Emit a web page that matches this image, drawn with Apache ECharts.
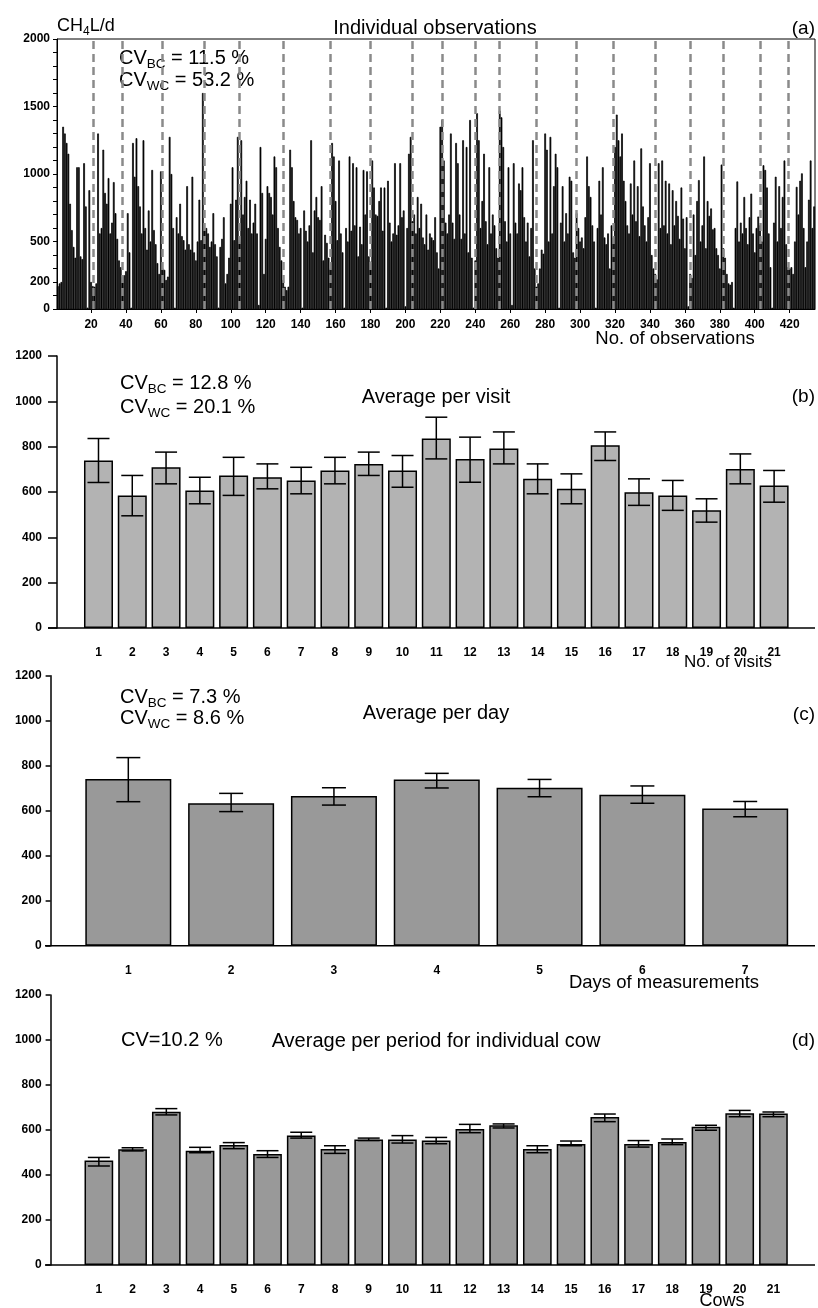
<!DOCTYPE html>
<html><head><meta charset="utf-8">
<script src="https://cdn.jsdelivr.net/npm/echarts@6/dist/echarts.min.js"></script>
<style>html,body{margin:0;padding:0;background:#fff}#c{width:818px;height:1308px}</style>
</head><body><div id="c"></div><script>
// ---- Panel (a): individual observations (CH4 L/d) ----
const obsValues = [
170,190,200,1350,1300,1230,1150,780,585,460,380,1050,1050,390,370,1080,760,10,880,200,
170,165,190,1300,560,600,1180,860,780,970,560,640,940,710,520,360,310,
240,250,280,710,420,10,1230,980,1265,910,760,560,1250,600,440,730,500,1030,585,480,340,260,1020,
300,290,215,240,1275,1000,600,10,680,560,780,540,510,440,910,480,440,980,420,360,500,810,510,1600,
585,600,560,460,500,710,480,390,10,460,520,680,190,260,380,780,1050,510,810,1275,
500,1250,700,830,950,600,810,560,640,780,560,30,1200,860,260,520,910,860,830,700,1130,1050,600,460,360,
215,165,140,165,1180,1050,800,680,660,560,600,10,730,580,500,620,1250,420,730,830,680,660,910,360,550,490,380,
300,1230,1130,800,510,1100,560,420,10,600,500,1130,580,1080,620,1050,390,610,480,1030,700,1020,390,
350,1100,900,700,690,800,900,580,900,10,950,640,500,560,1080,550,620,1080,680,730,20,600,1150,1275,
650,700,560,830,600,780,530,480,700,440,560,530,510,680,420,300,1350,
1400,1100,640,560,700,1300,640,520,1230,1080,700,520,1250,560,1200,420,1400,380,10,
360,1450,1250,600,800,1150,650,480,1050,560,700,620,450,380,
1470,1420,1200,650,500,1050,560,30,1080,640,560,930,880,1050,680,500,640,390,600,1250,300,
165,190,300,440,410,1300,1180,500,1275,560,910,1150,1050,10,640,910,500,710,560,980,950,420,380,
710,600,500,530,450,680,1130,910,830,620,500,10,600,950,700,1050,530,480,560,300,620,
530,1200,1440,1250,1130,1300,950,800,620,560,930,700,1100,650,910,540,1190,760,620,500,680,1080,400,300,
260,220,1080,600,1100,620,950,560,930,480,880,620,800,690,520,900,670,450,680,20,
260,230,700,400,800,955,500,620,1130,450,800,690,745,590,600,450,400,300,1070,
450,380,260,190,180,200,10,600,945,500,640,560,830,600,480,680,855,560,420,600,685,
620,500,1065,1030,900,560,310,10,640,980,500,910,600,830,1100,480,
310,300,310,260,500,905,700,950,1005,600,310,500,810,1100,600,760
];
const obsCategories = obsValues.map((v, i) => String(i + 1));
const visitStarts = [21,38,61,85,105,130,157,180,204,221,240,254,275,298,319,343,363,382,403,419];
const yLabelsA = [0,200,500,1000,1500,2000];

// ---- Panel (b): average per visit ----
const visitLabels = ['1','2','3','4','5','6','7','8','9','10','11','12','13','14','15','16','17','18','19','20','21'];
const visitMean = [739,585,709,607,673,665,651,695,724,695,836,746,792,658,614,806,599,585,519,702,629];
const visitHigh = [836,673,776,665,753,724,709,753,776,761,930,842,865,724,680,865,658,651,570,768,695];
const visitLow  = [642,495,636,548,585,614,592,636,673,621,746,643,724,592,548,739,541,519,467,636,555];

// ---- Panel (c): average per day ----
const dayLabels = ['1','2','3','4','5','6','7'];
const dayMean = [741,633,665,739,702,671,610];
const dayHigh = [836,677,702,766,739,710,641];
const dayLow  = [640,596,625,701,662,633,573];

// ---- Panel (d): average per period for individual cow ----
const cowLabels = ['1','2','3','4','5','6','7','8','9','10','11','12','13','14','15','16','17','18','19','20','21'];
const cowMean = [464,514,681,508,533,493,576,516,558,558,553,604,621,516,538,658,538,547,615,674,673];
const cowHigh = [478,521,695,523,544,508,590,530,564,575,567,625,627,530,551,671,553,560,621,687,680];
const cowLow  = [440,507,667,499,517,478,564,496,553,542,539,588,609,499,530,637,524,535,599,659,659];

const F = '"Liberation Sans", Arial, sans-serif';
const chart = echarts.init(document.getElementById('c'), null, {renderer: 'canvas'});

function errRender(capW) {
  return function (params, api) {
    const i = api.value(0);
    const hi = api.coord([i, api.value(1)]);
    const lo = api.coord([i, api.value(2)]);
    const st = {stroke: '#000', lineWidth: 1.5, fill: null};
    return {type: 'group', children: [
      {type: 'line', shape: {x1: hi[0], y1: hi[1], x2: lo[0], y2: lo[1]}, style: st},
      {type: 'line', shape: {x1: hi[0] - capW / 2, y1: hi[1], x2: hi[0] + capW / 2, y2: hi[1]}, style: st},
      {type: 'line', shape: {x1: lo[0] - capW / 2, y1: lo[1], x2: lo[0] + capW / 2, y2: lo[1]}, style: st}
    ]};
  };
}

function yAxisBar(gi, offset, tickLen, margin) {
  return {
    gridIndex: gi, type: 'value', min: 0, max: 1200, interval: 200, offset: offset,
    axisLine: {show: true, lineStyle: {color: '#000', width: 1.5}},
    axisTick: {show: true, length: tickLen, lineStyle: {color: '#000', width: 1.5}},
    axisLabel: {fontSize: 12, fontWeight: 'bold', color: '#000', margin: margin, fontFamily: F,
      formatter: (v) => String(v)},
    splitLine: {show: false}
  };
}
function xAxisBar(gi, cats) {
  return {
    gridIndex: gi, type: 'category', data: cats,
    axisLine: {show: false}, axisTick: {show: false},
    axisLabel: {fontSize: 12, fontWeight: 'bold', color: '#000', margin: 19, fontFamily: F, interval: 0}
  };
}

function cvText(x, y, sub, rest) {
  return {
    type: 'text', x: x, y: y,
    style: {
      text: '{m|CV}{s|' + sub + '}{m|' + rest + '}',
      verticalAlign: 'middle', align: 'left',
      rich: {
        m: {fontSize: 20, fontFamily: F, fill: '#000'},
        s: {fontSize: 13.5, fontFamily: F, fill: '#000', padding: [13, 0, 0, 0]}
      }
    }
  };
}
function plainText(x, y, text, size, align) {
  return {type: 'text', x: x, y: y, style: {text: text, fontSize: size, fontFamily: F, fill: '#000', align: align || 'center', verticalAlign: 'middle'}};
}
function hLine(x1, x2, y) {
  return {type: 'line', shape: {x1: x1, y1: y, x2: x2, y2: y}, style: {stroke: '#000', lineWidth: 1.5}};
}

const option = {
  animation: false,
  textStyle: {fontFamily: F},
  grid: [
    {left: 57, top: 39, width: 758, height: 270, show: true, borderColor: '#000', borderWidth: 1, backgroundColor: 'transparent'},
    {left: 81.6, top: 356, width: 709.4, height: 272},
    {left: 76.9, top: 675.7, width: 719.7, height: 270},
    {left: 82, top: 995, width: 708.3, height: 270}
  ],
  xAxis: [
    {
      gridIndex: 0, type: 'category', data: obsCategories, boundaryGap: true,
      axisLine: {show: true, lineStyle: {color: '#000', width: 1}},
      axisTick: {show: true, length: 4, alignWithLabel: true, interval: (idx) => (idx + 1) % 20 === 0, lineStyle: {color: '#000'}},
      axisLabel: {interval: (idx) => (idx + 1) % 20 === 0, fontSize: 12, fontWeight: 'bold', color: '#000', margin: 10, fontFamily: F}
    },
    xAxisBar(1, visitLabels),
    xAxisBar(2, dayLabels),
    xAxisBar(3, cowLabels)
  ],
  yAxis: [
    {
      gridIndex: 0, type: 'value', min: 0, max: 2000, interval: 100,
      axisLine: {show: true, lineStyle: {color: '#000', width: 1}},
      axisTick: {show: true, length: 4, lineStyle: {color: '#000'}},
      axisLabel: {fontSize: 12, fontWeight: 'bold', color: '#000', margin: 7, fontFamily: F,
        formatter: (v) => yLabelsA.indexOf(v) >= 0 ? String(v) : ''},
      splitLine: {show: false}
    },
    yAxisBar(1, 24.6, 9, 15),
    yAxisBar(2, 26.3, 5, 9),
    yAxisBar(3, 31.4, 5, 9)
  ],
  series: [
    {
      type: 'bar', xAxisIndex: 0, yAxisIndex: 0, data: obsValues, barCategoryGap: '0%',
      itemStyle: {color: '#000', borderColor: '#000', borderWidth: 0.7}, silent: true,
      markLine: {
        symbol: 'none', silent: true, label: {show: false},
        lineStyle: {color: '#8a8a8a', type: [8, 5], width: 2.5},
        data: visitStarts.map(v => ({xAxis: v - 1}))
      }
    },
    {type: 'bar', xAxisIndex: 1, yAxisIndex: 1, data: visitMean, barWidth: 29,
      itemStyle: {color: '#b3b3b3', borderColor: '#000', borderWidth: 1.5}},
    {type: 'custom', xAxisIndex: 1, yAxisIndex: 1, renderItem: errRender(22),
      encode: {x: 0, y: [1, 2]}, data: visitLabels.map((c, i) => [i, visitHigh[i], visitLow[i]]), z: 5},
    {type: 'bar', xAxisIndex: 2, yAxisIndex: 2, data: dayMean, barWidth: 86,
      itemStyle: {color: '#999999', borderColor: '#000', borderWidth: 1.5}},
    {type: 'custom', xAxisIndex: 2, yAxisIndex: 2, renderItem: errRender(24),
      encode: {x: 0, y: [1, 2]}, data: dayLabels.map((c, i) => [i, dayHigh[i], dayLow[i]]), z: 5},
    {type: 'bar', xAxisIndex: 3, yAxisIndex: 3, data: cowMean, barWidth: 28.7,
      itemStyle: {color: '#999999', borderColor: '#000', borderWidth: 1.5}},
    {type: 'custom', xAxisIndex: 3, yAxisIndex: 3, renderItem: errRender(22),
      encode: {x: 0, y: [1, 2]}, data: cowLabels.map((c, i) => [i, cowHigh[i], cowLow[i]]), z: 5}
  ],
  graphic: [
    hLine(48, 815, 628),
    hLine(45, 815, 945.7),
    hLine(45, 815, 1265),
    // panel (a)
    {type: 'text', x: 57, y: 26, style: {text: '{m|CH}{s|4}{m|L/d}', verticalAlign: 'middle', align: 'left',
      rich: {m: {fontSize: 18, fontFamily: F, fill: '#000'}, s: {fontSize: 12, fontFamily: F, fill: '#000', padding: [11, 0, 0, 0]}}}},
    plainText(435, 28, 'Individual observations', 20),
    plainText(815, 29, '(a)', 19, 'right'),
    cvText(119, 58, 'BC', ' = 11.5 %'),
    cvText(119, 80, 'WC', ' = 53.2 %'),
    plainText(675, 339, 'No. of observations', 18.5),
    // panel (b)
    cvText(120, 383, 'BC', ' = 12.8 %'),
    cvText(120, 407, 'WC', ' = 20.1 %'),
    plainText(436, 397, 'Average per visit', 20),
    plainText(815, 397, '(b)', 19, 'right'),
    plainText(728, 662, 'No. of visits', 17),
    // panel (c)
    cvText(120, 697, 'BC', ' = 7.3 %'),
    cvText(120, 718, 'WC', ' = 8.6 %'),
    plainText(436, 713, 'Average per day', 20),
    plainText(815, 715, '(c)', 19, 'right'),
    plainText(664, 983, 'Days of measurements', 18.5),
    // panel (d)
    plainText(121, 1040, 'CV=10.2 %', 20, 'left'),
    plainText(436, 1041, 'Average per period for individual cow', 20),
    plainText(815, 1041, '(d)', 19, 'right'),
    plainText(722, 1301, 'Cows', 18)
  ]
};
chart.setOption(option);
</script></body></html>
